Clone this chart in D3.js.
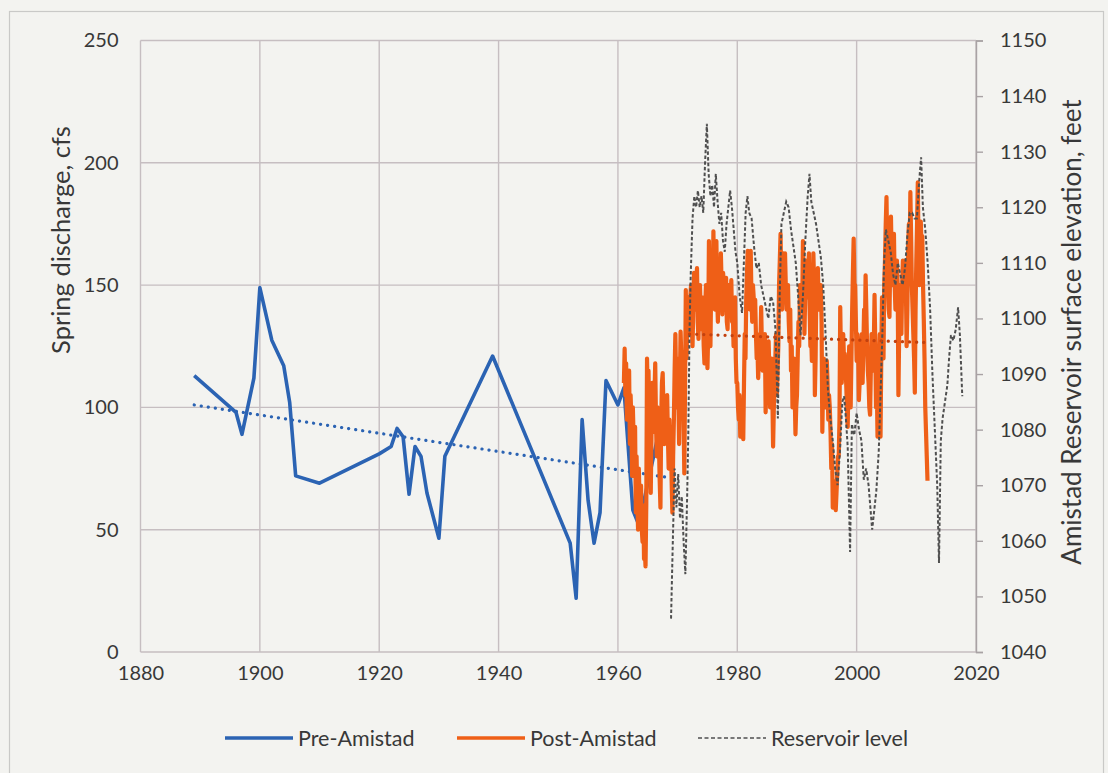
<!DOCTYPE html>
<html><head><meta charset="utf-8">
<script src="https://cdn.jsdelivr.net/npm/d3@7"></script>
<style>
html,body{margin:0;padding:0;background:#f3f3f0;}
svg{display:block;font-family:Lato,"Open Sans",sans-serif;}
</style></head>
<body><svg id="chart" width="1108" height="773"></svg>
<script>
// ---------- DATA ----------
const xTicks = [1880,1900,1920,1940,1960,1980,2000,2020];
const leftTicks = [0,50,100,150,200,250];
const rightTicks = [1040,1050,1060,1070,1080,1090,1100,1110,1120,1130,1140,1150];

const preYears  = [1889,1896,1897,1899,1900,1902,1904,1905,1906,1910,1920,1922,1923,1924,1925,1926,1927,1928,1930,1931,1939,1952,1953,1954,1955,1956,1957,1958,1960,1961,1962.5,1963.5,1966.5,1967];
const preValues = [113,98,89,112,149,127.5,117,102,72,69,81,84,91.4,88,64.5,84,80,65,46.5,80,121,44.5,22,95,62,44.5,57,111,101,108,58,52,86,80];

// Post-Amistad spring discharge, 8 readings per year from 1961.0
const postStart = 1961;
const postPerYear = 8;
const postValues = [
 110,124,105,118,95,112,100,115,   85,105,95,72,100,88,78,92,
 57,80,62,50,75,62,58,68,          50,45,60,38,42,35,60,120,
 105,115,95,108,65,90,110,100,     90,105,118,95,80,100,92,85,
 70,59,95,110,114,100,85,95,       100,92,105,88,75,95,82,90,
 70,57,80,95,115,130,110,100,      120,105,85,110,131,120,110,118,
 95,73,110,148,120,135,145,130,    130,145,150,135,125,140,155,145,
 140,150,157,135,128,145,150,138,  132,145,138,125,118,140,150,135,
 116,130,168,140,125,150,160,145,  172,150,140,160,168,145,135,150,
 160,140,163,150,138,155,150,140,  145,153,135,132,150,140,150,145,
 152,135,140,125,130,145,120,110,  110,100,95,105,88,95,100,92,
 87,110,130,120,145,155,164,150,   155,140,164,145,135,150,145,140,
 144,130,120,125,112,120,130,125,  141,125,115,130,120,130,98,110,
 110,120,127,115,100,110,120,105,  84,100,110,120,130,105,115,125,
 150,160,171,150,140,155,163,150,  163,150,140,145,150,135,127,140,
 115,125,100,110,120,105,89,100,   105,120,135,125,150,140,145,140,
 168,150,130,145,160,150,145,155,  163,140,125,130,119,140,163,150,
 105,120,150,140,157,145,140,150,  150,135,90,110,120,105,100,115,
 119,110,95,105,100,90,75,85,      59,70,65,62,58,65,73,80,
 80,95,141,120,110,125,130,120,    122,115,110,100,92,110,125,115,
 100,120,140,155,169,150,150,135,  119,130,125,103,110,125,120,130,
 110,125,140,130,154,140,125,115,  110,100,97,115,130,120,115,125,
 146,125,100,110,88,105,120,130,   88,120,145,130,120,150,160,175,
 186,165,150,140,137,160,178,160,  150,165,171,150,140,155,160,150,
 105,130,150,140,130,150,160,150,  145,160,150,125,140,165,175,160,
 188,170,150,140,130,120,106,140,  160,175,192,165,150,160,176,165,
 170,150,136,120,100,90,80,70
];

const resYears = [1968.9,1969.2,1969.5,1969.8,1970.1,1970.4,1970.7,1971.0,1971.3,1971.6,1971.8,1972.0,1972.2,1972.5,1972.8,1973.1,1973.4,1973.7,1974.0,1974.3,1974.6,1974.9,1975.2,1975.5,1975.8,1976.1,1976.4,1976.7,1977.0,1977.3,1977.6,1977.9,1978.2,1978.5,1978.8,1979.1,1979.4,1979.7,1980.0,1980.4,1980.8,1981.1,1981.4,1981.7,1982.0,1982.4,1982.8,1983.2,1983.6,1984.0,1984.4,1984.8,1985.2,1985.6,1986.0,1986.4,1986.8,1987.1,1987.4,1987.8,1988.2,1988.6,1989.0,1989.4,1989.8,1990.2,1990.6,1991.0,1991.4,1991.8,1992.1,1992.4,1992.8,1993.2,1993.6,1994.0,1994.4,1994.8,1995.2,1995.6,1996.0,1996.4,1996.8,1997.2,1997.6,1997.9,1998.2,1998.5,1998.9,1999.2,1999.6,2000.0,2000.4,2000.8,2001.2,2001.6,2002.0,2002.3,2002.6,2003.0,2003.3,2003.7,2004.0,2004.3,2004.6,2004.9,2005.3,2005.7,2006.1,2006.5,2006.9,2007.3,2007.7,2008.1,2008.5,2008.9,2009.3,2009.7,2010.1,2010.5,2010.8,2011.1,2011.5,2011.9,2012.3,2012.7,2013.1,2013.5,2013.8,2014.1,2014.4,2014.8,2015.2,2015.5,2015.8,2016.2,2016.6,2017.0,2017.3,2017.7];
const resLevels = [1046,1060,1073,1066,1072,1064,1068,1060,1054,1068,1080,1098,1108,1118,1122,1120,1123,1120,1122,1119,1128,1135,1126,1122,1124,1120,1126,1121,1117,1119,1114,1112,1117,1120,1123,1120,1116,1112,1110,1104,1101,1110,1119,1122,1119,1118,1113,1109,1110,1106,1104,1102,1100,1104,1103,1098,1082,1104,1117,1119,1121,1120,1116,1113,1110,1104,1097,1104,1114,1122,1126,1121,1119,1117,1114,1111,1106,1097,1087,1082,1078,1073,1070,1076,1085,1086,1082,1077,1058,1081,1079,1083,1080,1078,1071,1073,1070,1066,1062,1066,1069,1076,1086,1097,1110,1116,1114,1112,1108,1106,1110,1108,1106,1109,1115,1119,1119,1118,1118,1125,1129,1120,1116,1110,1102,1090,1080,1070,1056,1078,1082,1085,1088,1093,1097,1096,1098,1102,1097,1086];

// Linear trend endpoints
const preTrendYears = [1889,1968];
const preTrendValues = [101,71.5];
const postTrendYears = [1972,2012];
const postTrendValues = [130,126.5];

const legendItems = ["Pre-Amistad","Post-Amistad","Reservoir level"];

// ---------- CHART ----------
const svg = d3.select("#chart");
const W = 1108, H = 773;
const pLeft = 140.5, pRight = 976, pTop = 40.5, pBottom = 652;
const blue = "#2b63b3", orange = "#ef5f17", grey = "#4f4f4f", gridC = "#c6bec1", textC = "#383838";

svg.append("rect").attr("x",0).attr("y",0).attr("width",W).attr("height",H).attr("fill","#f3f3f0");
svg.append("rect").attr("x",9.5).attr("y",11.5).attr("width",1094).attr("height",780)
  .attr("fill","none").attr("stroke","#c9c9c7").attr("stroke-width",1.2);

const x = d3.scaleLinear().domain([1880,2020]).range([pLeft,pRight]);
const yL = d3.scaleLinear().domain([0,250]).range([pBottom,pTop]);
const yR = d3.scaleLinear().domain([1040,1150]).range([pBottom,pTop]);

// grid
const g = svg.append("g");
g.selectAll(".hg").data(leftTicks).join("line")
  .attr("x1",pLeft).attr("x2",pRight).attr("y1",d=>yL(d)).attr("y2",d=>yL(d))
  .attr("stroke",gridC).attr("stroke-width",1.4);
g.selectAll(".vg").data(xTicks).join("line")
  .attr("x1",d=>x(d)).attr("x2",d=>x(d)).attr("y1",pTop).attr("y2",pBottom)
  .attr("stroke",gridC).attr("stroke-width",1.4);

// axes
const axL = d3.axisLeft(yL).tickValues(leftTicks).tickSize(0).tickPadding(22);
const axR = d3.axisRight(yR).tickValues(rightTicks).tickSize(7).tickPadding(17).tickFormat(d3.format("d"));
const axB = d3.axisBottom(x).tickValues(xTicks).tickSize(0).tickPadding(14).tickFormat(d3.format("d"));
function style(sel){
  sel.selectAll("text").attr("fill",textC).style("font-size","20px").style("font-family","Lato, sans-serif");
}
svg.append("g").attr("transform",`translate(${pLeft},0)`).call(axL).call(s=>s.select(".domain").remove()).call(style);
svg.append("g").attr("transform",`translate(${pRight},0)`).call(axR)
  .call(s=>s.select(".domain").attr("stroke","#a8a2a4").attr("stroke-width",1.4))
  .call(s=>s.selectAll(".tick line").attr("stroke","#a8a2a4").attr("stroke-width",1.4)).call(style);
svg.append("g").attr("transform",`translate(0,${pBottom})`).call(axB).call(s=>s.select(".domain").remove()).call(style);

// axis titles
svg.append("text").attr("transform","translate(70,240) rotate(-90)").attr("text-anchor","middle")
  .attr("fill",textC).style("font-size","25.5px").text("Spring discharge, cfs");
svg.append("text").attr("transform","translate(1081,332) rotate(-90)").attr("text-anchor","middle")
  .attr("fill",textC).style("font-size","26px").text("Amistad Reservoir surface elevation, feet");

// series
const preData = preYears.map((yr,i)=>[yr,preValues[i]]);
const postData = postValues.map((v,i)=>[postStart + i/postPerYear, v]);
const resData = resYears.map((yr,i)=>[yr,resLevels[i]]);

const lineL = d3.line().x(d=>x(d[0])).y(d=>yL(d[1]));
const lineR = d3.line().x(d=>x(d[0])).y(d=>yR(d[1]));

svg.append("path").datum(preData).attr("d",lineL).attr("fill","none")
  .attr("stroke",blue).attr("stroke-width",3.6).attr("stroke-linejoin","round");
svg.append("path").datum(preTrendYears.map((yr,i)=>[yr,preTrendValues[i]])).attr("d",lineL)
  .attr("fill","none").attr("stroke",blue).attr("stroke-width",3.2)
  .attr("stroke-dasharray","0.1,7").attr("stroke-linecap","round");
svg.append("path").datum(postData).attr("d",lineL).attr("fill","none")
  .attr("stroke",orange).attr("stroke-width",4.2).attr("stroke-linejoin","round");
svg.append("path").datum(resData).attr("d",lineR).attr("fill","none")
  .attr("stroke",grey).attr("stroke-width",2).attr("stroke-dasharray","3.5,2.2");
svg.append("path").datum(postTrendYears.map((yr,i)=>[yr,postTrendValues[i]])).attr("d",lineL)
  .attr("fill","none").attr("stroke","#c2410f").attr("stroke-width",3.2)
  .attr("stroke-dasharray","0.1,7").attr("stroke-linecap","round");

// legend
const legX = [225,457,698];
const leg = svg.append("g");
legendItems.forEach((name,i)=>{
  const lg = leg.append("g").attr("transform",`translate(${legX[i]},738)`);
  const ln = lg.append("line").attr("x1",0).attr("x2",68).attr("y1",0).attr("y2",0);
  if(i===0) ln.attr("stroke",blue).attr("stroke-width",3.6);
  else if(i===1) ln.attr("stroke",orange).attr("stroke-width",3.6);
  else ln.attr("stroke",grey).attr("stroke-width",1.6).attr("stroke-dasharray","4,2.5");
  lg.append("text").attr("x",73).attr("y",8).attr("fill",textC).style("font-size","21.5px").text(name);
});
</script></body></html>
